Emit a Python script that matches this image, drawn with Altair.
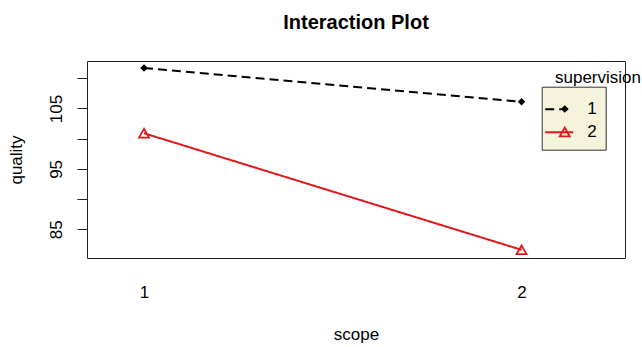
import altair as alt
import pandas as pd

# Mean quality for each scope level, one list per supervision group
scope = [1, 2]
groups = ["1", "2"]
quality_sup1 = [111.7, 106.1]
quality_sup2 = [100.9, 81.6]
y_ticks = [85, 90, 95, 100, 105, 110]
x_ticks = [1, 2]

rows = []
for g, vals in zip(groups, [quality_sup1, quality_sup2]):
    for s, q in zip(scope, vals):
        rows.append({"scope": s, "quality": q, "supervision": g, "marker": g})
df = pd.DataFrame(rows)

FONT = "Liberation Sans"
RED = "#e0181c"
INK = "#222222"

x_enc = alt.X(
    "scope:Q",
    scale=alt.Scale(domain=[0.849, 2.274], nice=False, zero=False),
    axis=alt.Axis(
        values=x_ticks, format="d", domain=False, ticks=False, tickSize=0, grid=False,
        labelPadding=39, labelBaseline="alphabetic", labelFontSize=17, labelFont=FONT,
        labelColor="black", labelFlush=False,
        title="scope", titleFontSize=17, titleFont=FONT, titleFontWeight="normal",
        titleColor="black", titleX=269, titleY=81, titleBaseline="alphabetic", titleAlign="center",
    ),
)
y_enc = alt.Y(
    "quality:Q",
    scale=alt.Scale(domain=[80.25, 112.86], nice=False, zero=False),
    axis=alt.Axis(
        values=y_ticks, labelExpr="datum.value % 10 == 5 ? datum.label : ''",
        domain=False, grid=False, tickSize=10, tickColor=INK, tickWidth=1,
        labelAngle=270, labelAlign="center", labelBaseline="alphabetic", labelPadding=15.3,
        labelFontSize=17, labelFont=FONT, labelColor="black", labelFlush=False, labelOverlap=False,
        title="quality", titleFontSize=17, titleFont=FONT, titleFontWeight="normal",
        titleColor="black", titleAngle=270, titleX=-65.3, titleY=98.5,
        titleBaseline="alphabetic", titleAlign="center",
    ),
)

# Boxed legend: line samples and labels
line_legend = alt.Legend(
    orient="none", legendX=454.7, legendY=25.7,
    title="supervision", titleOpacity=0, titleFontSize=5, titlePadding=0,
    fillColor="#f5f3dc", strokeColor="#333333", padding=9,
    symbolType="M-2,0H2", symbolSize=196, symbolStrokeWidth=2, symbolOffset=0,
    labelFontSize=17, labelFont=FONT, labelColor="black", labelOffset=19.5,
    rowPadding=5, zindex=0,
)
# Marker overlay on the line samples, carrying the legend heading
marker_legend = alt.Legend(
    orient="none", legendX=468, legendY=9.1,
    title="supervision", titleFontSize=17, titleFont=FONT, titleFontWeight="normal",
    titleColor="black", titlePadding=13.4, padding=0,
    symbolSize=100, symbolStrokeWidth=1.8, symbolOffset=1.2,
    labelFontSize=17, labelFont=FONT, labelExpr="' '", labelOpacity=0, labelOffset=19.5,
    rowPadding=5, zindex=1,
)

lines = alt.Chart(df).mark_line(strokeWidth=2).encode(
    x=x_enc,
    y=y_enc,
    color=alt.Color("supervision:N", scale=alt.Scale(domain=groups, range=["black", RED]),
                    legend=line_legend),
    strokeDash=alt.StrokeDash("supervision:N", scale=alt.Scale(domain=groups, range=[[9, 5], [1, 0]]),
                              legend=line_legend),
)

diamond = "M0,-0.5L0.5,0L0,0.5L-0.5,0Z"
points = alt.Chart(df).mark_point(size=100, strokeWidth=1.8, opacity=1, filled=False).encode(
    x=x_enc,
    y=y_enc,
    color=alt.Color("marker:N", scale=alt.Scale(range=["black", RED]), legend=marker_legend),
    fill=alt.Fill("marker:N", scale=alt.Scale(range=["black", "transparent"]), legend=marker_legend),
    shape=alt.Shape("marker:N", scale=alt.Scale(range=[diamond, "triangle-up"]), legend=marker_legend),
)

chart = (
    alt.layer(lines, points)
    .resolve_scale(color="independent", fill="independent", shape="independent", strokeDash="independent")
    .properties(
        width=538,
        height=197,
        autosize=alt.AutoSizeParams(type="none"),
        padding={"left": 87, "top": 61, "right": 17, "bottom": 89},
        background="white",
        title=alt.TitleParams(
            "Interaction Plot", fontSize=20, font=FONT, fontWeight="bold",
            anchor="middle", baseline="alphabetic", offset=12, color="black",
        ),
    )
    .configure_view(stroke=INK, strokeWidth=1)
)

chart.save("out.html", embed_options={"renderer": "svg", "actions": False})
